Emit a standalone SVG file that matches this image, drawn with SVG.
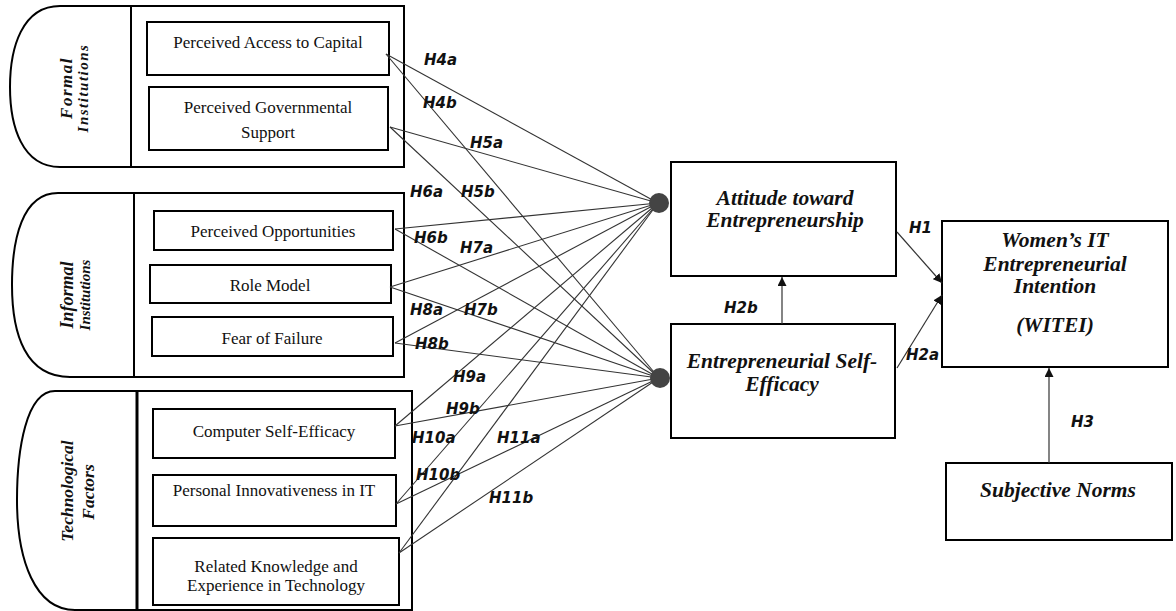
<svg xmlns="http://www.w3.org/2000/svg" width="1176" height="611" viewBox="0 0 1176 611">
  <style>
    .panel { fill: #fff; stroke: #000; stroke-width: 2; }
    .box { fill: #fff; stroke: #000; stroke-width: 2; }
    .item { font-family: "Liberation Serif", "Times New Roman", serif; font-size: 17px; fill: #111; text-anchor: middle; }
    .group { font-family: "Liberation Serif", "Times New Roman", serif; font-weight: bold; font-style: italic; fill: #111; text-anchor: middle; }
    .construct { font-family: "Liberation Serif", "Times New Roman", serif; font-weight: bold; font-style: italic; font-size: 21.5px; fill: #111; text-anchor: middle; }
    .hyp { font-family: "DejaVu Sans", "Open Sans", sans-serif; font-weight: bold; font-style: italic; font-size: 15px; fill: #111; }
    .link { stroke: #333; stroke-width: 1.1; fill: none; }
    .path { stroke: #333; stroke-width: 1.2; fill: none; marker-end: url(#head); }
    .hub { fill: #444; }
  </style>
  <defs>
    <marker id="head" viewBox="0 0 10 10" refX="10" refY="5" markerWidth="9" markerHeight="9" markerUnits="userSpaceOnUse" orient="auto">
      <path d="M0,0 L10,5 L0,10 Z" fill="#111"/>
    </marker>
  </defs>

  <rect width="1176" height="611" fill="#fff"/>

  <!-- Formal institutions panel -->
  <g id="formal-institutions">
    <path class="panel" d="M131,6 L60,6 C22,6 10,48 10,87 C10,126 22,167 60,167 L131,167 Z"/>
    <rect class="panel" x="131" y="6" width="273" height="161"/>
    <text class="group" font-size="17" letter-spacing="1.5" transform="translate(72,88) rotate(-90)">Formal</text>
    <text class="group" font-size="15" letter-spacing="1.5" transform="translate(88,88) rotate(-90)">Institutions</text>
  </g>
  <g id="perceived-access-to-capital">
    <rect class="box" x="147" y="22" width="242" height="53"/>
    <text class="item" x="268" y="48">Perceived Access to Capital</text>
  </g>
  <g id="perceived-governmental-support">
    <rect class="box" x="149" y="87" width="239" height="63"/>
    <text class="item" x="268" y="113">Perceived Governmental</text>
    <text class="item" x="268" y="138">Support</text>
  </g>

  <!-- Informal institutions panel -->
  <g id="informal-institutions">
    <path class="panel" d="M134,193 L58,193 C22,193 12,240 12,285 C12,335 26,377 70,377 L134,377 Z"/>
    <rect class="panel" x="134" y="193" width="270" height="184"/>
    <text class="group" font-size="18" transform="translate(73,295) rotate(-90)">Informal</text>
    <text class="group" font-size="15" transform="translate(90,295) rotate(-90)">Institutions</text>
  </g>
  <g id="perceived-opportunities">
    <rect class="box" x="154" y="211" width="239" height="39"/>
    <text class="item" x="273" y="237">Perceived Opportunities</text>
  </g>
  <g id="role-model">
    <rect class="box" x="150" y="265" width="241" height="38"/>
    <text class="item" x="270" y="291">Role Model</text>
  </g>
  <g id="fear-of-failure">
    <rect class="box" x="152" y="317" width="241" height="39"/>
    <text class="item" x="272" y="344">Fear of Failure</text>
  </g>

  <!-- Technological factors panel -->
  <g id="technological-factors">
    <path class="panel" d="M137,391 L55,391 C26,391 17,450 17,500 C17,560 35,610 75,610 L137,610 Z"/>
    <rect class="panel" x="137" y="391" width="275" height="219"/>
    <line x1="137" y1="391" x2="137" y2="611" stroke="#000" stroke-width="3"/>
    <text class="group" font-size="17.5" transform="translate(73,491) rotate(-90)">Technological</text>
    <text class="group" font-size="17.5" transform="translate(94,492) rotate(-90)">Factors</text>
  </g>
  <g id="computer-self-efficacy">
    <rect class="box" x="153" y="409" width="242" height="49"/>
    <text class="item" x="274" y="437">Computer Self-Efficacy</text>
  </g>
  <g id="personal-innovativeness">
    <rect class="box" x="153" y="475" width="243" height="51"/>
    <text class="item" x="274" y="496">Personal Innovativeness in IT</text>
  </g>
  <g id="related-knowledge">
    <rect class="box" x="153" y="538" width="246" height="67"/>
    <text class="item" x="276" y="572">Related Knowledge and</text>
    <text class="item" x="276" y="591">Experience in Technology</text>
  </g>

  <!-- Mediating and outcome constructs -->
  <g id="attitude">
    <rect class="box" x="671" y="162" width="225" height="114"/>
    <text class="construct" x="785" y="205">Attitude toward</text>
    <text class="construct" x="785" y="227">Entrepreneurship</text>
  </g>
  <g id="self-efficacy">
    <rect class="box" x="671" y="324" width="224" height="114"/>
    <text class="construct" x="782" y="368">Entrepreneurial Self-</text>
    <text class="construct" x="782" y="391">Efficacy</text>
  </g>
  <g id="witei">
    <rect class="box" x="942" y="221" width="226" height="146"/>
    <text class="construct" x="1055" y="247">Women’s IT</text>
    <text class="construct" x="1055" y="271">Entrepreneurial</text>
    <text class="construct" x="1055" y="293">Intention</text>
    <text class="construct" x="1055" y="332">(WITEI)</text>
  </g>
  <g id="subjective-norms">
    <rect class="box" x="946" y="463" width="226" height="77"/>
    <text class="construct" x="1058" y="497">Subjective Norms</text>
  </g>

  <!-- Connectors -->
  <g id="connectors">
    <!-- antecedents to attitude hub -->
    <line class="link" x1="386" y1="54" x2="658" y2="203"/>
    <line class="link" x1="390" y1="127" x2="658" y2="203"/>
    <line class="link" x1="395" y1="229" x2="658" y2="203"/>
    <line class="link" x1="390" y1="287" x2="658" y2="203"/>
    <line class="link" x1="395" y1="343" x2="658" y2="203"/>
    <line class="link" x1="395" y1="426" x2="658" y2="203"/>
    <line class="link" x1="396" y1="504" x2="658" y2="203"/>
    <line class="link" x1="399" y1="553" x2="658" y2="203"/>
    <!-- antecedents to self-efficacy hub -->
    <line class="link" x1="386" y1="54" x2="659" y2="378"/>
    <line class="link" x1="390" y1="127" x2="659" y2="378"/>
    <line class="link" x1="395" y1="229" x2="659" y2="378"/>
    <line class="link" x1="390" y1="287" x2="659" y2="378"/>
    <line class="link" x1="395" y1="343" x2="659" y2="378"/>
    <line class="link" x1="395" y1="426" x2="659" y2="378"/>
    <line class="link" x1="396" y1="504" x2="659" y2="378"/>
    <line class="link" x1="399" y1="553" x2="659" y2="378"/>
    <circle class="hub" cx="659" cy="203" r="10"/>
    <circle class="hub" cx="660" cy="378" r="10"/>
    <!-- structural paths -->
    <line class="path" x1="897" y1="232" x2="942" y2="283"/>
    <line class="path" x1="897" y1="368" x2="942" y2="295"/>
    <line class="path" x1="782" y1="324" x2="782" y2="277"/>
    <line class="path" x1="1049" y1="463" x2="1049" y2="368"/>
  </g>

  <!-- Hypothesis labels -->
  <g id="hypotheses">
    <text class="hyp" x="424" y="65">H4a</text>
    <text class="hyp" x="423" y="108">H4b</text>
    <text class="hyp" x="470" y="148">H5a</text>
    <text class="hyp" x="410" y="197">H6a</text>
    <text class="hyp" x="461" y="197">H5b</text>
    <text class="hyp" x="414" y="243">H6b</text>
    <text class="hyp" x="460" y="253">H7a</text>
    <text class="hyp" x="410" y="315">H8a</text>
    <text class="hyp" x="464" y="315">H7b</text>
    <text class="hyp" x="415" y="349">H8b</text>
    <text class="hyp" x="453" y="382">H9a</text>
    <text class="hyp" x="446" y="414">H9b</text>
    <text class="hyp" x="412" y="443">H10a</text>
    <text class="hyp" x="497" y="443">H11a</text>
    <text class="hyp" x="416" y="480">H10b</text>
    <text class="hyp" x="489" y="503">H11b</text>
    <text class="hyp" x="909" y="233">H1</text>
    <text class="hyp" x="724" y="313">H2b</text>
    <text class="hyp" x="906" y="360">H2a</text>
    <text class="hyp" x="1071" y="427">H3</text>
  </g>
</svg>
